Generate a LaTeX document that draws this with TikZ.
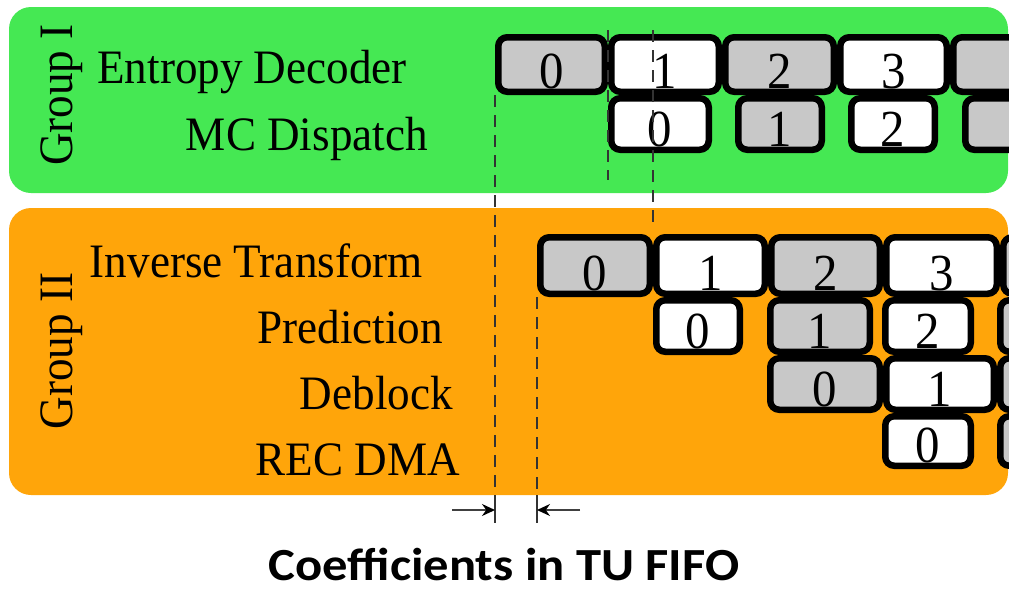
\documentclass[tikz,border=0pt]{standalone}
\usepackage{fontspec}
\setmainfont{Liberation Serif}[FakeStretch=0.94]
\newfontfamily\capfont{Carlito}[FakeStretch=1.1]
\usetikzlibrary{arrows.meta}

\definecolor{grpone}{HTML}{45E853}
\definecolor{grptwo}{HTML}{FFA50A}
\definecolor{slot}{HTML}{C8C8C8}

\tikzset{
  grp/.style={rounded corners=22pt},
  slotbox/.style={draw=black, line width=6.5pt, rounded corners=9pt, inner sep=0pt},
  stage/.style={font=\fontsize{48}{52}\selectfont, anchor=base east, inner sep=0pt},
  grplabel/.style={font=\fontsize{48}{52}\selectfont, anchor=base, rotate=90, inner sep=0pt},
  digit/.style={font=\fontsize{52}{56}\selectfont, anchor=base, inner sep=0pt},
  guide/.style={dash pattern=on 12pt off 8pt, line width=1.3pt, draw=black!80},
  tick/.style={line width=1.3pt, draw=black!80},
  gap/.style={line width=1.5pt, draw=black!75, -{Stealth[length=13pt,width=12pt,black]}},
}

\begin{document}
\begin{tikzpicture}[x=1pt,y=-1pt]
\useasboundingbox (0,0) rectangle (1009,590);
\clip (0,0) rectangle (1009,590);

% group boxes
\fill[grp, grpone] (9,7) rectangle (1008,193);
\fill[grp, grptwo] (9,208) rectangle (1008,495);

\node[grplabel] (g1) at (72,95) {Group I};
\node[grplabel] (g2) at (72,351) {Group II};

\node[stage] (edl) at (407,83) {Entropy Decoder};
\node[stage] (mcl) at (428,150) {MC Dispatch};
\node[stage] (itl) at (423,277) {Inverse Transform};
\node[stage] (prl) at (443,343) {Prediction};
\node[stage] (dbl) at (453,409) {Deblock};
\node[stage] (rdl) at (460,475) {REC DMA};

% entropy decoder
\foreach \i/\xa/\xb/\f/\d in {0/495/608/slot/0, 1/608/722/white/1, 2/722/837/slot/2, 3/837/950/white/3, 4/950/1064/slot/{}}
{
  \node[slotbox, fill=\f, minimum width=\xb-\xa-6.5, minimum height=54.5] (ed\i) at ({(\xa+\xb)/2},64.5) {};
  \node[digit] (edd\i) at ([yshift=7pt]ed\i.south) {\d};
}
% mc dispatch
\foreach \i/\xa/\xb/\f/\d in {0/608/712/white/0, 1/735/825/slot/1, 2/848/938/white/2, 3/962/1052/slot/{}}
{
  \node[slotbox, fill=\f, minimum width=\xb-\xa-6.5, minimum height=51.5] (mc\i) at ({(\xa+\xb)/2},124) {};
  \node[digit] (mcd\i) at ([yshift=7pt]mc\i.south) {\d};
}
% inverse transform
\foreach \i/\xa/\xb/\f/\d in {0/537/653/slot/0, 1/653/768/white/1, 2/768/883/slot/2, 3/883/1000/white/3, 4/1000/1115/slot/{}}
{
  \node[slotbox, fill=\f, minimum width=\xb-\xa-6.5, minimum height=56.5] (it\i) at ({(\xa+\xb)/2},265.5) {};
  \node[digit] (itd\i) at ([yshift=7pt]it\i.south) {\d};
}
% prediction
\foreach \i/\xa/\xb/\f/\d in {0/653/743/white/0, 1/767/873/slot/1, 2/882/974/white/2, 3/997/1100/slot/{}}
{
  \node[slotbox, fill=\f, minimum width=\xb-\xa-6.5, minimum height=51.5] (pr\i) at ({(\xa+\xb)/2},326) {};
  \node[digit] (prd\i) at ([yshift=7pt]pr\i.south) {\d};
}
% deblock
\foreach \i/\xa/\xb/\f/\d in {0/767/883/slot/0, 1/883/997/white/1, 2/997/1110/slot/{}}
{
  \node[slotbox, fill=\f, minimum width=\xb-\xa-6.5, minimum height=51.5] (db\i) at ({(\xa+\xb)/2},384) {};
  \node[digit] (dbd\i) at ([yshift=7pt]db\i.south) {\d};
}
% rec dma
\foreach \i/\xa/\xb/\f/\d in {0/882/974/white/0, 1/997/1090/slot/{}}
{
  \node[slotbox, fill=\f, minimum width=\xb-\xa-6.5, minimum height=49.5] (rd\i) at ({(\xa+\xb)/2},441) {};
  \node[digit] (rdd\i) at ([yshift=7pt]rd\i.south) {\d};
}

% guide lines
\coordinate (top) at (0,30);
\coordinate (upr) at (0,180);
\coordinate (mid) at (0,227);
\coordinate (base) at (0,495);
\coordinate (foot) at (0,523);
\coordinate (arr) at (0,510);
\draw[guide] (ed0.south west) -- (ed0.south west |- base);
\draw[guide] (it0.south west) -- (it0.south west |- base);
\draw[guide] (mc0.west |- top) -- (mc0.west |- upr);
\draw[guide] (pr0.west |- top) -- (pr0.west |- mid);
\draw[tick] (ed0.south west |- base) -- (ed0.south west |- foot);
\draw[tick] (it0.south west |- base) -- (it0.south west |- foot);

\coordinate (la) at (ed0.south west |- arr);
\coordinate (ra) at (it0.south west |- arr);
\draw[gap] ([xshift=-43pt]la) -- (la);
\draw[gap] ([xshift=43pt]ra) -- (ra);

\node[font=\capfont\bfseries\fontsize{46}{50}\selectfont, anchor=base, inner sep=0pt] (cap) at (504,580) {Coefficients in TU FIFO};
\end{tikzpicture}
\end{document}
